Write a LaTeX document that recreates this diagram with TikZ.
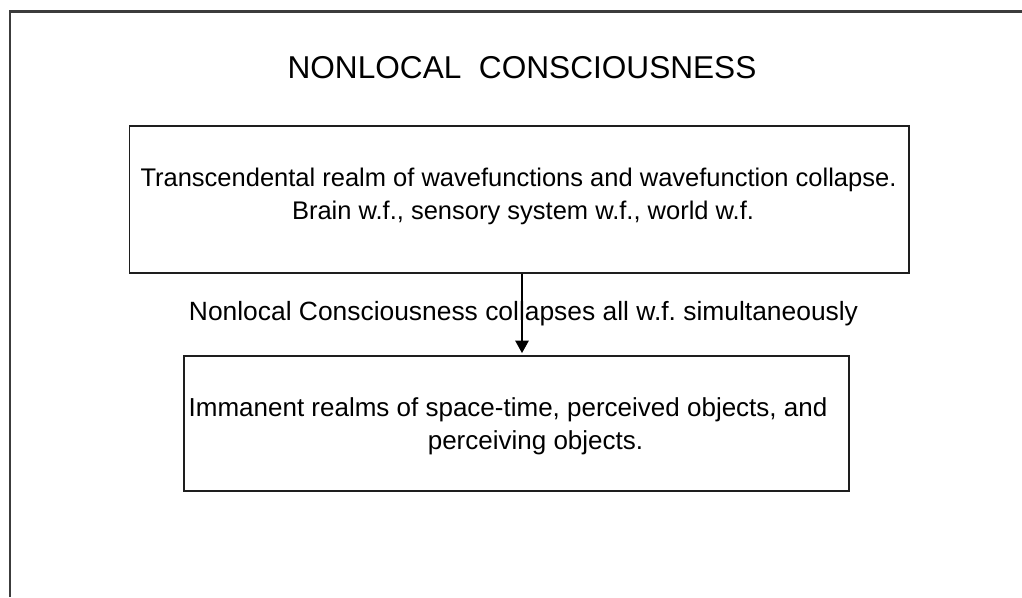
\documentclass[tikz,border=0pt]{standalone}
\usepackage{fontspec}
\setmainfont{Liberation Sans}
\usetikzlibrary{arrows.meta}
\definecolor{framegray}{HTML}{3C3C3C}
\definecolor{boxline}{HTML}{1E1E1E}
\frenchspacing
\begin{document}
\begin{tikzpicture}[x=1pt,y=-1pt,
  frameline/.style={draw=framegray, line width=2.2pt},
  boxnode/.style={draw=boxline, line width=1.8pt, inner sep=0pt},
  boxtext/.style={inner sep=0pt, align=center, font=\fontsize{25.5}{32.7}\selectfont},
  boxtextb/.style={boxtext, font=\fontsize{26}{33}\selectfont},
  titletext/.style={inner sep=0pt, font=\fontsize{31.6}{36}\selectfont},
  labeltext/.style={inner sep=0pt, font=\fontsize{26.4}{30}\selectfont},
  flowarrow/.style={draw=black, line width=1.5pt, -{Triangle[width=13.5pt,length=12.5pt]}, shorten >=2pt}
]
\useasboundingbox (0,0) rectangle (1022,597);
% outer frame (left and top edges only)
\coordinate (fbl) at (10,597);
\coordinate (ftl) at (10,11.5);
\coordinate (ftr) at (1022,11.5);
\draw[frameline] (fbl) -- (ftl) -- (ftr);

% title
\node[titletext, anchor=base] (title) at (522,78) {NONLOCAL\ \ CONSCIOUSNESS};

% upper box
\node[boxnode, minimum width=779.8pt, minimum height=146.7pt] (trans) at (519.4,199.4) {};
\node[boxtext] (transtxt) at (519.4,196.4)
  {Transcendental realm of wavefunctions and wavefunction collapse.\hspace*{1.8pt}\\
   \hspace*{7.2pt}Brain w.f., sensory system w.f., world w.f.};

% lower box
\node[boxnode, minimum width=665.3pt, minimum height=134.7pt] (imm) at (516.7,423.3) {};
\node[boxtextb] (immtxt) at (516.7,426.6)
  {Immanent realms of space-time, perceived objects, and\hspace*{17.4pt}\\
   \hspace*{37.6pt}perceiving objects.};

% connector
\coordinate (ax) at (522,0);
\draw[flowarrow] (trans.south -| ax) -- node[labeltext, xshift=1.5pt, yshift=1pt] (lab)
  {Nonlocal Consciousness collapses all w.f. simultaneously} (imm.north -| ax);
\end{tikzpicture}
\end{document}
